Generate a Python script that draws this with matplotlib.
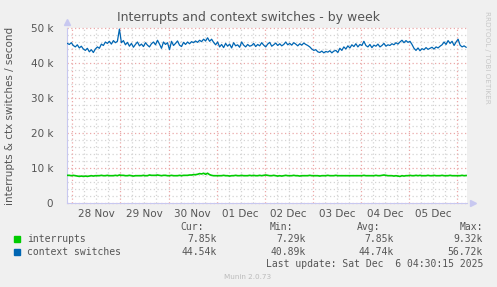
import matplotlib
matplotlib.use("Agg")
import matplotlib.pyplot as plt
import pandas as pd
import numpy as np

# ---- data (hourly samples, thousands per second) ----
start_time = "2025-11-27 21:30"
interrupts_k = [7.9,7.9,7.8,7.9,7.8,7.7,7.6,7.7,7.6,7.7,7.6,7.7,7.8,7.7,7.8,
 7.8,7.8,7.9,7.8,7.8,7.9,7.8,7.8,7.8,7.9,7.8,8.0,7.9,7.9,7.8,
 7.8,7.9,7.8,7.7,7.8,7.8,7.8,7.8,7.9,7.8,7.8,8.0,7.9,7.9,7.9,
 8.0,7.9,7.8,7.9,7.9,7.8,7.8,7.9,7.8,7.8,7.8,7.9,7.8,7.9,7.9,
 7.9,8.0,8.0,8.1,8.1,8.2,8.4,8.3,8.5,8.2,8.5,8.1,7.9,7.8,7.8,
 7.8,7.8,7.8,7.9,7.8,7.8,7.7,7.8,7.8,7.9,7.8,7.8,7.9,7.8,7.8,
 7.8,7.9,7.8,7.9,7.8,7.8,7.9,7.8,7.9,8.0,7.9,7.8,7.8,7.9,7.8,
 7.7,7.8,7.7,7.8,7.9,7.8,7.8,7.8,7.9,7.8,7.8,7.7,7.8,7.8,7.8,
 7.8,7.9,7.8,7.8,7.8,7.8,7.7,7.8,7.8,7.8,7.9,7.8,7.8,7.8,7.9,
 7.8,7.8,7.8,7.8,7.8,7.8,7.8,7.8,7.8,7.8,7.8,7.8,7.8,7.9,7.8,
 7.8,7.8,7.8,7.8,7.9,7.8,7.8,7.9,8.0,7.9,7.8,7.8,7.8,7.7,7.8,
 7.7,7.6,7.8,7.7,7.8,7.8,7.9,7.8,7.8,7.9,7.8,7.9,7.8,7.8,7.8,
 7.9,7.8,7.8,7.9,7.8,7.8,7.8,7.9,7.8,7.8,7.8,7.9,7.8,7.8,7.8,
 7.8,7.8,7.9,7.8,7.85]

context_switches_k = [
 45.6,45.3,45.8,45.0,44.6,45.2,44.3,44.8,44.0,43.6,44.2,
 43.2,43.8,43.0,44.0,44.6,44.2,45.4,45.0,46.0,
 45.6,46.2,45.4,46.4,45.8,46.2,
 49.7,
 45.8,46.4,45.2,45.9,44.8,45.6,44.5,45.3,46.0,44.9,45.4,44.7,45.8,45.1,44.6,45.5,
 46.0,45.2,46.5,45.4,44.2,46.0,45.3,45.8,43.8,46.2,45.0,45.6,46.3,45.1,44.7,45.9,45.3,46.0,
 45.5,46.1,45.8,46.3,45.9,46.5,46.1,46.8,46.3,47.2,
 46.2,46.8,45.9,45.2,46.0,44.6,45.3,44.4,45.6,44.8,45.4,44.3,45.8,44.9,45.2,44.5,46.0,45.1,44.6,45.3,44.8,
 45.0,45.6,44.7,45.3,44.9,45.8,45.1,44.6,45.4,45.9,44.8,45.2,45.7,45.0,45.5,44.9,45.3,46.0,45.2,45.6,
 45.1,45.8,45.4,44.9,45.5,45.1,45.7,45.3,45.0,44.6,44.0,43.6,43.8,43.2,
 43.0,43.4,42.9,43.3,43.1,43.5,42.9,43.4,43.6,43.0,
 44.2,43.6,44.6,44.0,44.9,44.3,45.2,44.7,45.5,44.6,45.3,45.0,46.2,
 45.0,44.6,45.3,44.4,45.1,44.8,45.4,44.6,45.0,45.6,44.8,45.2,45.0,45.5,45.2,45.8,45.4,
 46.0,46.5,45.8,46.4,45.9,46.2,45.3,
 44.2,43.6,44.3,43.5,44.1,43.8,44.4,43.9,44.2,44.5,44.0,44.6,44.3,44.8,
 45.2,46.0,45.3,46.4,45.6,46.2,45.0,46.0,46.8,45.1,44.6,44.9,44.5]

series_names = ["interrupts", "context switches"]
series_colors = ["#00CC00", "#0066B3"]
stat_headers = ["Cur:", "Min:", "Avg:", "Max:"]
stats = [["7.85k", "7.29k", "7.85k", "9.32k"],
         ["44.54k", "40.89k", "44.74k", "56.72k"]]
day_labels_first = "2025-11-28"
n_days = 8

times = pd.date_range(start_time, periods=len(context_switches_k), freq="h")
interrupts = np.array(interrupts_k) * 1000
ctx = np.array(context_switches_k) * 1000

W, H = 497, 287
fig = plt.figure(figsize=(W / 100, H / 100), dpi=100, facecolor="#F0F0F0")
ax = fig.add_axes([67 / W, 1 - 203 / H, 400 / W, 175 / H])
ax.set_facecolor("white")

ax.plot(times, ctx, color=series_colors[1], lw=0.9, zorder=3)
ax.plot(times, interrupts, color=series_colors[0], lw=1.2, zorder=3)

x0 = pd.Timestamp("2025-11-27 21:21")
x1 = pd.Timestamp("2025-12-06 04:57")
ax.set_xlim(x0, x1)
ax.set_ylim(0, 50000)

# grids
major_color = "#EBA8A8"
minor_color = "#D4D4D4"
dots = (0, (1, 2))
for yv in range(0, 50001, 2000):
    c = major_color if yv % 10000 == 0 else minor_color
    ax.axhline(yv, color=c, lw=0.9, ls=dots, zorder=1, clip_on=False)
t = pd.Timestamp("2025-11-27 00:00")
while t <= x1:
    if t >= x0:
        c = major_color if t.hour == 0 else minor_color
        ax.axvline(t, color=c, lw=0.9, ls=dots, zorder=1)
    t += pd.Timedelta(hours=6)

# ticks
ax.set_yticks(range(0, 50001, 10000))
ax.set_yticklabels(["0"] + [f"{v} k" for v in range(10, 51, 10)])
noon = pd.date_range(pd.Timestamp(day_labels_first) + pd.Timedelta(hours=12), periods=n_days, freq="D")
ax.set_xticks(noon)
ax.set_xticklabels([d.strftime("%d %b") for d in noon])
ax.tick_params(axis="both", length=0, labelsize=7.5, colors="#555555", pad=4)
ax.tick_params(axis="y", pad=10)

for s in ["top", "right"]:
    ax.spines[s].set_visible(False)
for s in ["left", "bottom"]:
    ax.spines[s].set_color("#C8C8F0")
    ax.spines[s].set_linewidth(0.8)
ax.plot([0], [1.035], marker="^", color="#C8C8F0", ms=4, transform=ax.transAxes, clip_on=False)
ax.plot([1.015], [0], marker=">", color="#C8C8F0", ms=4, transform=ax.transAxes, clip_on=False)

def fx(x):
    return x / W
def fy(y):
    return 1 - y / H

fig.text(fx(249), fy(17), "Interrupts and context switches - by week", ha="center", va="center",
         fontsize=9, color="#555555")
fig.text(fx(10), fy(116), "interrupts & ctx switches / second", rotation=90, ha="center", va="center",
         fontsize=7.5, color="#555555")
fig.text(fx(487), fy(57), "RRDTOOL / TOBI OETIKER", rotation=270, ha="center", va="center",
         fontsize=5.2, color="#C8C8C8")

mono = "DejaVu Sans Mono"
col_right = [217, 306, 394, 483]
header_x = [204, 293, 380, 483]
for hx, h in zip(header_x, stat_headers):
    fig.text(fx(hx), fy(227), h, ha="right", va="center", fontsize=7, family=mono, color="#555555")
row_y = [239, 252]
for i, name in enumerate(series_names):
    fig.patches.append(plt.Rectangle((fx(14), fy(row_y[i] + 3)), 6 / W, 6 / H, transform=fig.transFigure,
                                     color=series_colors[i], figure=fig))
    fig.text(fx(27), fy(row_y[i]), name, ha="left", va="center", fontsize=7, family=mono, color="#555555")
    for cx, val in zip(col_right, stats[i]):
        fig.text(fx(cx), fy(row_y[i]), val, ha="right", va="center", fontsize=7, family=mono, color="#555555")
fig.text(fx(483), fy(264), "Last update: Sat Dec  6 04:30:15 2025", ha="right", va="center",
         fontsize=7, family=mono, color="#555555")
fig.text(fx(248), fy(277), "Munin 2.0.73", ha="center", va="center", fontsize=5.2, color="#BBBBBB")

fig.savefig("out.png", dpi=100, facecolor=fig.get_facecolor())
